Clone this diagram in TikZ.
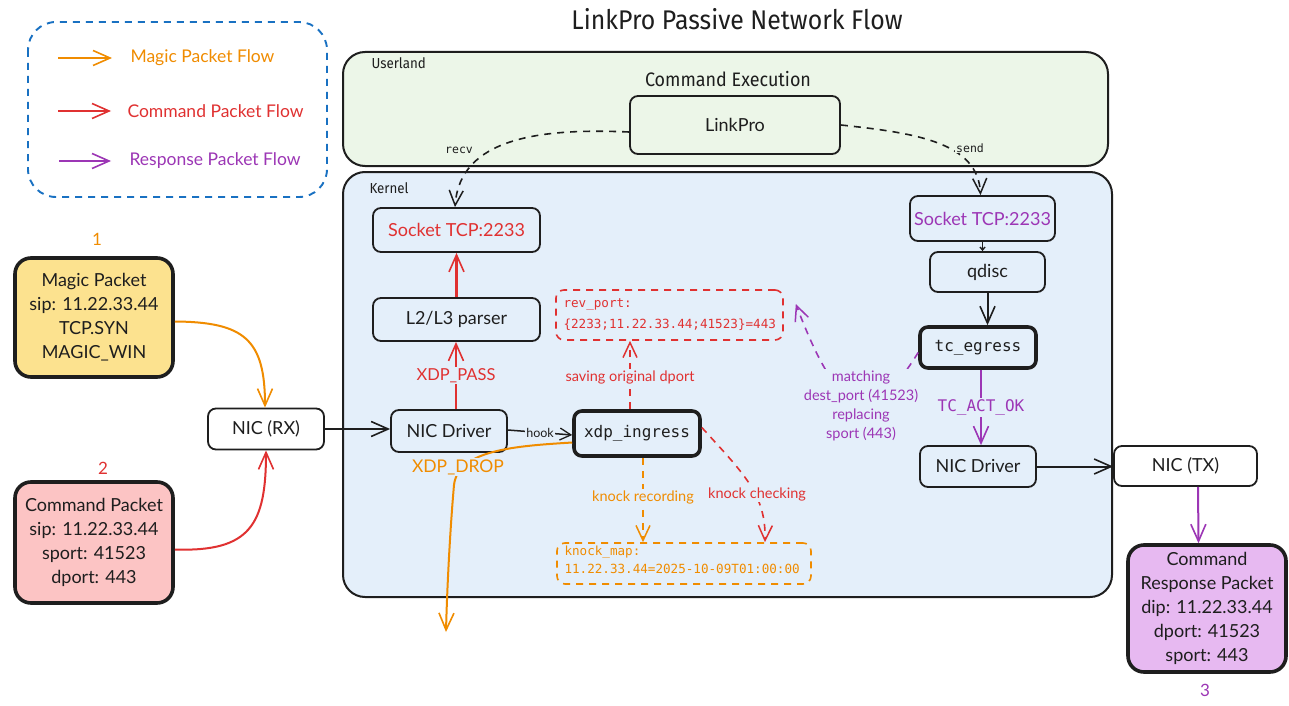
\documentclass[tikz,border=0pt]{standalone}
\usepackage{fontspec}
\setmainfont{Lato}
\setmonofont{DejaVu Sans Mono}
\newfontfamily\condfont[FakeStretch=0.92]{Fira Sans}
\usetikzlibrary{arrows.meta}

\definecolor{cOrange}{HTML}{F08C00}
\definecolor{cRed}{HTML}{E03131}
\definecolor{cPurple}{HTML}{9C36B5}
\definecolor{cBlue}{HTML}{1971C2}
\definecolor{ink}{HTML}{1E1E1E}
\definecolor{userFill}{HTML}{ECF6E8}
\definecolor{kernFill}{HTML}{E4EFFA}
\definecolor{magicFill}{HTML}{FCE28F}
\definecolor{cmdFill}{HTML}{FCC4C4}
\definecolor{respFill}{HTML}{E7B9F1}

\newcommand{\fs}[2]{\fontsize{#1}{#2}\selectfont}

\tikzset{
  box/.style={draw=ink, line width=1.8pt, rounded corners=8pt, align=center,
    inner sep=0pt, font=\fs{18}{24}, text=ink},
  boldbox/.style={box, line width=3.6pt},
  pkt/.style={boldbox, rounded corners=16pt},
  region/.style={draw=ink, line width=2pt, rounded corners=22pt},
  arr/.style={line width=2pt, -{Straight Barb[length=17pt,width=15pt,line width=1.6pt]}},
  darr/.style={line width=1.6pt, dash pattern=on 7pt off 6pt,
    -{Straight Barb[length=15pt,width=14pt,line width=1.5pt]}},
  dsh/.style={dash pattern=on 7pt off 6pt},
  lbl/.style={fill=kernFill, inner sep=1.5pt, align=center},
  small/.style={font=\fs{14.5}{19}},
  mono/.style={font=\ttfamily\fs{16}{20}},
  legendtext/.style={anchor=west, font=\fs{17.5}{20}},
}

\begin{document}
\begin{tikzpicture}[x=1pt, y=-1pt]
  % canvas
  \fill[white] (0,0) rectangle (1289,706);
  \useasboundingbox (0,0) rectangle (1289,706);

  % title
  \node[font=\condfont\fs{27}{30}, text=ink] (title) at (737,19) {LinkPro Passive Network Flow};

  % legend
  \draw[cBlue, line width=1.9pt, dsh, rounded corners=28pt] (28,22) rectangle (327,197);
  \coordinate (lgOa) at (58,58);  \coordinate (lgOb) at (112,58);
  \coordinate (lgRa) at (58,111); \coordinate (lgRb) at (111,111);
  \coordinate (lgPa) at (59,161); \coordinate (lgPb) at (111,161);
  \draw[arr, cOrange] (lgOa) -- (lgOb);
  \draw[arr, cRed]    (lgRa) -- (lgRb);
  \draw[arr, cPurple] (lgPa) -- (lgPb);
  \node[legendtext, text=cOrange] (lgO) at (127,58)  {Magic Packet Flow};
  \node[legendtext, text=cRed]    (lgR) at (124,111) {Command Packet Flow};
  \node[legendtext, text=cPurple] (lgP) at (126,161) {Response Packet Flow};

  % userland and kernel regions
  \filldraw[region, fill=userFill] (343,52) rectangle (1108,166);
  \filldraw[region, fill=kernFill] (343,172) rectangle (1112,597);
  \node[anchor=west, font=\condfont\fs{14.5}{16}, text=ink] (userlbl) at (368,63) {Userland};
  \node[anchor=west, font=\condfont\fs{14.5}{16}, text=ink] (kernlbl) at (366,188) {Kernel};
  \node[font=\condfont\fs{19.5}{22}, text=ink] (cmdexec) at (728,79) {Command Execution};

  % userland process
  \node[box, minimum width=210pt, minimum height=58pt] (linkpro) at (735,125) {LinkPro};

  % left: incoming packets
  \node[pkt, fill=magicFill, minimum width=158pt, minimum height=119pt] (magic) at (94,317.5)
    {Magic Packet\\sip: 11.22.33.44\\TCP.SYN\\MAGIC\_WIN};
  \node[pkt, fill=cmdFill, minimum width=158pt, minimum height=121pt] (cmd) at (94,542.5)
    {Command Packet\\sip: 11.22.33.44\\sport: 41523\\dport: 443};
  \node[font=\fs{17}{20}, text=cOrange] (n1) at (97,239) {1};
  \node[font=\fs{17}{20}, text=cRed] (n2) at (103,468) {2};
  \node[box, fill=white, minimum width=116pt, minimum height=41pt] (nicrx) at (266,429) {NIC (RX)};

  % kernel ingress path
  \node[box, minimum width=116pt, minimum height=42pt] (drvL) at (449,431) {NIC Driver};
  \node[boldbox, mono, minimum width=126pt, minimum height=45pt] (xdp) at (637,433.5) {xdp\_ingress};
  \node[box, minimum width=167pt, minimum height=43pt] (parser) at (456.5,319.5) {L2/L3 parser};
  \node[box, text=cRed, minimum width=167pt, minimum height=44pt] (sockL) at (456.5,230) {Socket TCP:2233};

  % eBPF maps
  \node[draw=cRed, line width=1.6pt, dsh, rounded corners=8pt, minimum width=227pt, minimum height=50pt,
        inner sep=0pt] (rev) at (669.5,315) {};
  \node[anchor=west, align=left, font=\ttfamily\fs{12.6}{21}, text=cRed] (revtxt) at (560,315)
    {rev\_port:\\\{2233;11.22.33.44;41523\}=443};
  \node[draw=cOrange, line width=1.6pt, dsh, rounded corners=8pt, minimum width=254pt, minimum height=41pt,
        inner sep=0pt] (knock) at (684,563.5) {};
  \node[anchor=west, align=left, font=\ttfamily\fs{12.6}{18}, text=cOrange] (knocktxt) at (561,560)
    {knock\_map:\\11.22.33.44=2025-10-09T01:00:00};

  % kernel egress path
  \node[box, text=cPurple, minimum width=145pt, minimum height=45pt] (sockR) at (982.5,218.5) {Socket TCP:2233};
  \node[box, minimum width=115pt, minimum height=40pt] (qdisc) at (987.5,272) {qdisc};
  \node[boldbox, mono, minimum width=116pt, minimum height=41pt] (tce) at (978,347.5) {tc\_egress};
  \node[box, minimum width=116pt, minimum height=41pt] (drvR) at (978,466.5) {NIC Driver};

  % right: outgoing
  \node[box, fill=white, minimum width=143pt, minimum height=40pt] (nictx) at (1185.5,466) {NIC (TX)};
  \node[pkt, fill=respFill, minimum width=158pt, minimum height=127pt] (resp) at (1207,608.5)
    {Command\\Response Packet\\dip: 11.22.33.44\\dport: 41523\\sport: 443};
  \node[font=\fs{17}{20}, text=cPurple] (n3) at (1205,690) {3};

  % ---- connectors ----
  % magic and command packets into the NIC
  \draw[arr, cOrange] ([yshift=-4pt]magic.east) .. controls (245,322) and (265,340) .. ([xshift=-1pt]nicrx.north);
  \draw[arr, cRed] ([yshift=-7pt]cmd.east) .. controls (250,552) and (266,525) .. (nicrx.south);
  \draw[arr, ink] (nicrx.east) -- (nicrx.east -| drvL.west);

  % hook
  \draw[ink, line width=1.5pt, -{Straight Barb[length=11pt,width=12pt,line width=1.3pt]}]
    ([yshift=1pt]drvL.east) -- node[lbl, font=\fs{12.5}{14}, text=ink, inner sep=1pt] (hooklbl) {hook} ([yshift=-1.5pt]xdp.west);

  % XDP_DROP
  \coordinate (dropEnd) at (446,632);
  \draw[arr, cOrange] ([yshift=-9pt]xdp.west) .. controls (515,446) and (458,450) .. (454,485)
     .. controls (450,530) and (447,590) .. (dropEnd);
  \node[lbl, font=\fs{17.5}{20}, text=cOrange] (droplbl) at (458,467) {XDP\_DROP};

  % XDP_PASS
  \draw[arr, cRed] ([xshift=7pt]drvL.north) -- node[lbl, font=\fs{16.5}{20}, text=cRed] (passlbl) {XDP\_PASS}
     ([xshift=-0.5pt]parser.south);
  \draw[arr, cRed, line width=2.6pt] (parser.north) -- (sockL.south);

  % map accesses
  \draw[darr, cRed] ([xshift=-7pt]xdp.north) --
     node[lbl, small, text=cRed, pos=0.47] (savelbl) {saving original dport} ([xshift=-39.5pt]rev.south);
  \draw[darr, cOrange] ([xshift=6pt]xdp.south) --
     node[lbl, small, text=cOrange, pos=0.47] (reclbl) {knock recording} ([xshift=-41pt]knock.north);
  \draw[darr, cRed] ([yshift=6pt]xdp.east) .. controls (745,475) and (766,495) .. ([xshift=81pt]knock.north);
  \node[lbl, small, text=cRed] (chklbl) at (757,494) {knock checking};
  \draw[darr, cPurple] ([yshift=-5pt]tce.west) .. controls (870,430) and (840,420) .. ([xshift=12pt,yshift=11pt]rev.east);
  \node[lbl, small, text=cPurple] (matchlbl) at (861,406) {matching\\dest\_port (41523)\\replacing\\sport (443)};

  % egress chain
  \draw[ink, line width=1.4pt, -{Straight Barb[length=3pt,width=5pt]}] (sockR.south) -- (sockR.south |- qdisc.north);
  \draw[arr, ink] (qdisc.south) -- (qdisc.south |- tce.north);
  \draw[arr, cPurple] ([xshift=3pt]tce.south) -- node[lbl, mono, text=cPurple] (oklbl) {TC\_ACT\_OK} ([xshift=3pt]drvR.north);
  \draw[arr, ink] (drvR.east) -- (drvR.east -| nictx.west);
  \draw[arr, cPurple] ([xshift=12.5pt]nictx.south) -- ([xshift=-8.5pt]resp.north);

  % userland <-> sockets
  \draw[darr, ink] ([yshift=-7pt]linkpro.west) .. controls (540,128) and (460,138) .. ([xshift=-1.5pt]sockL.north);
  \node[fill=userFill, inner sep=1pt, font=\ttfamily\fs{11.5}{13}, text=ink] (recvlbl) at (459,150) {recv};
  \draw[darr, ink] (linkpro.east) .. controls (915,133) and (978,142) .. ([xshift=-2pt]sockR.north);
  \node[fill=userFill, inner sep=1pt, font=\ttfamily\fs{11.5}{13}, text=ink] (sendlbl) at (970,148) {send};
\end{tikzpicture}
\end{document}
